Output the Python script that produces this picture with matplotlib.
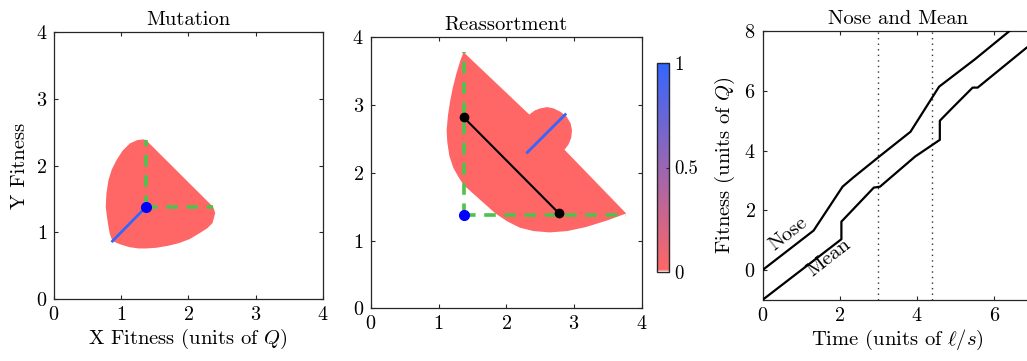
import numpy as np
import matplotlib
matplotlib.use("Agg")
import matplotlib.pyplot as plt
from matplotlib.colors import LinearSegmentedColormap
from matplotlib.cm import ScalarMappable
from matplotlib.colors import Normalize

plt.rcParams["font.family"] = ["cmr10"]
plt.rcParams["mathtext.fontset"] = "cm"
plt.rcParams["axes.formatter.use_mathtext"] = True
plt.rcParams["font.size"] = 14

# ---- population in fitness space: mutation ----
mut_origin = (1.37, 1.38)
mut_shape_x = [1.37, 2.37, 2.40, 2.36, 2.28, 2.17, 2.02, 1.86, 1.70, 1.52, 1.37, 1.26,
               1.12, 0.99, 0.87, 0.83, 0.81, 0.79, 0.77, 0.78, 0.81, 0.86, 0.93, 1.02,
               1.13, 1.24, 1.33, 1.37]
mut_shape_y = [2.38, 1.38, 1.29, 1.14, 1.06, 0.99, 0.90, 0.84, 0.80, 0.77, 0.76, 0.76,
               0.78, 0.82, 0.87, 0.98, 1.09, 1.22, 1.38, 1.58, 1.78, 1.94, 2.08, 2.22,
               2.33, 2.38, 2.39, 2.38]
mut_front_x = [0.87, 1.37]
mut_front_y = [0.87, 1.38]
mut_arm = 1.0

# ---- population in fitness space: reassortment ----
rea_origin = (1.37, 1.38)
rea_shape_x = [1.37, 2.34, 2.42, 2.50, 2.60, 2.70, 2.80, 2.89, 2.95, 2.97, 2.96, 2.92,
               2.86, 3.77, 3.50, 3.18, 2.90, 2.64, 2.40, 2.20, 2.02, 1.84, 1.37, 1.30,
               1.22, 1.16, 1.13, 1.12, 1.14, 1.17, 1.21, 1.26, 1.32, 1.37]
rea_shape_y = [3.78, 2.86, 2.92, 2.95, 2.97, 2.95, 2.90, 2.83, 2.73, 2.63, 2.52, 2.42,
               2.34, 1.40, 1.30, 1.20, 1.14, 1.12, 1.14, 1.19, 1.28, 1.40, 1.82, 1.93,
               2.07, 2.25, 2.45, 2.63, 2.85, 3.05, 3.25, 3.45, 3.65, 3.78]
rea_front_x = [2.31, 2.87]
rea_front_y = [2.30, 2.86]
rea_parents_x = [1.37, 2.78]
rea_parents_y = [2.82, 1.40]
rea_arm = 2.4

# ---- nose and mean fitness over time ----
nose_t = [0.0, 1.32, 2.07, 2.35, 3.04, 3.83, 4.57, 5.50, 6.39, 7.0]
nose_f = [0.0, 1.32, 2.79, 3.10, 3.82, 4.63, 6.14, 7.06, 8.0, 8.55]
mean_t = [0.0, 2.04, 2.04, 2.10, 2.88, 3.04, 3.95, 4.59, 4.59, 4.90, 5.44, 5.57, 6.85, 7.0]
mean_f = [-1.0, 1.03, 1.62, 1.70, 2.76, 2.79, 3.80, 4.36, 5.0, 5.41, 6.11, 6.11, 7.46, 7.58]
marker_times = [3.0, 4.4]

red = (1.0, 0.4, 0.4)
front_blue = (0.2, 0.4, 1.0)
green = (0.3, 0.76, 0.3)
spine_col = (0.15, 0.15, 0.15)

cmap = LinearSegmentedColormap.from_list(
    "wrb", [(0.0, (1, 1, 1)), (0.012, red), (1.0, front_blue)])

fig = plt.figure(figsize=(10.27, 3.61), dpi=100)
ax1 = fig.add_axes([0.0526, 0.1709, 0.2616, 0.7413])
ax2 = fig.add_axes([0.3610, 0.1460, 0.2639, 0.7507])
cax = fig.add_axes([0.6394, 0.2457, 0.01168, 0.5806])
ax3 = fig.add_axes([0.7426, 0.1695, 0.2631, 0.7441])

TICK_FS = 14.5
LABEL_FS = 14.8


def style(ax):
    ax.tick_params(direction="in", length=3, width=0.8, top=True, right=True,
                   colors=spine_col, labelcolor="black", labelsize=TICK_FS, pad=5)
    for s in ax.spines.values():
        s.set_color(spine_col)
        s.set_linewidth(0.9)


def dashed_arms(ax, origin, arm):
    ox, oy = origin
    ax.plot([ox, ox], [oy, oy + arm], color=green, lw=2.6, dashes=(3.2, 2.4),
            solid_capstyle="butt", dash_capstyle="butt", zorder=2)
    ax.plot([ox, ox + arm], [oy, oy], color=green, lw=2.6, dashes=(3.2, 2.4),
            solid_capstyle="butt", dash_capstyle="butt", zorder=2)


# Mutation panel
ax1.fill(mut_shape_x, mut_shape_y, color=red, lw=0, zorder=1)
dashed_arms(ax1, mut_origin, mut_arm)
ax1.plot(mut_front_x, mut_front_y, color=front_blue, lw=2, zorder=3)
ax1.plot([mut_origin[0]], [mut_origin[1]], "o", color=(0, 0, 1), ms=7, zorder=4)
ax1.set_xlim(0, 4)
ax1.set_ylim(0, 4)
ax1.set_xticks([0, 1, 2, 3, 4])
ax1.set_yticks([0, 1, 2, 3, 4])
ax1.set_title("Mutation", fontsize=LABEL_FS, pad=5)
ax1.set_xlabel("X Fitness (units of $Q$)", fontsize=LABEL_FS, labelpad=2)
ax1.set_ylabel("Y Fitness", fontsize=LABEL_FS, labelpad=5)
style(ax1)

# Reassortment panel
ax2.fill(rea_shape_x, rea_shape_y, color=red, lw=0, zorder=1)
dashed_arms(ax2, rea_origin, rea_arm)
ax2.plot(rea_front_x, rea_front_y, color=front_blue, lw=2, zorder=3)
ax2.plot(rea_parents_x, rea_parents_y, color="black", lw=1.5, zorder=3)
ax2.plot(rea_parents_x, rea_parents_y, "o", color="black", ms=6, zorder=4)
ax2.plot([rea_origin[0]], [rea_origin[1]], "o", color=(0, 0, 1), ms=7, zorder=4)
ax2.set_xlim(0, 4)
ax2.set_ylim(0, 4)
ax2.set_xticks([0, 1, 2, 3, 4])
ax2.set_yticks([0, 1, 2, 3, 4])
ax2.set_title("Reassortment", fontsize=LABEL_FS, pad=5)
style(ax2)

# Colour scale
sm = ScalarMappable(norm=Normalize(0, 1), cmap=cmap)
cb = fig.colorbar(sm, cax=cax, ticks=[0, 0.5, 1])
cb.ax.set_yticklabels(["0", "0.5", "1"])
cb.ax.tick_params(direction="in", length=2, width=0.8, labelsize=TICK_FS - 1, pad=4,
                  colors=spine_col, labelcolor="black")
cb.outline.set_edgecolor(spine_col)
cb.outline.set_linewidth(1.0)

# Nose and mean panel
for t in marker_times:
    ax3.axvline(t, color=(0.2, 0.2, 0.2), lw=1.0, ls=(0, (1, 3)), zorder=1)
ax3.plot(nose_t, nose_f, color="black", lw=1.6, zorder=3)
ax3.plot(mean_t, mean_f, color="black", lw=1.6, zorder=3)
ax3.text(0.66, 1.20, "Nose", rotation=38, ha="center", va="center", fontsize=LABEL_FS)
ax3.text(1.72, 0.42, "Mean", rotation=38, ha="center", va="center", fontsize=LABEL_FS)
ax3.set_xlim(0, 7)
ax3.set_ylim(-1, 8)
ax3.set_xticks([0, 2, 4, 6])
ax3.set_yticks([0, 2, 4, 6, 8])
ax3.set_title("Nose and Mean", fontsize=LABEL_FS, pad=5)
ax3.set_xlabel(r"Time (units of $\ell/s$)", fontsize=LABEL_FS, labelpad=2)
ax3.set_ylabel("Fitness (units of $Q$)", fontsize=LABEL_FS, labelpad=5)
style(ax3)

fig.savefig("out.png", dpi=100)
